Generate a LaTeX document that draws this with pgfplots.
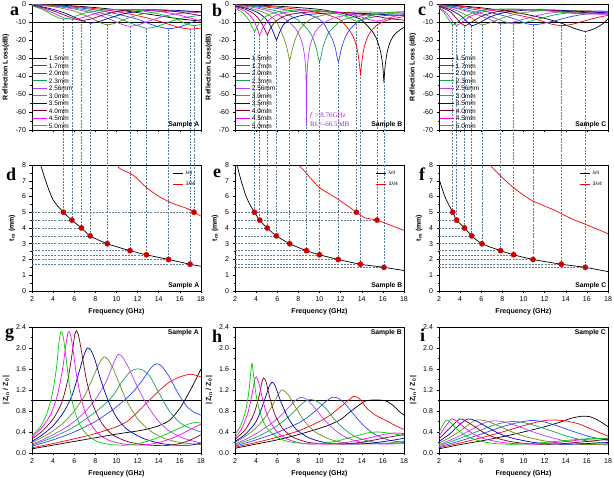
\documentclass[border=0pt]{standalone}
\usepackage{pgfplots}
\pgfplotsset{compat=1.18}
\usepackage{fontspec}
\setmainfont{Liberation Sans}
\newfontfamily\serifltr{Liberation Serif}
\definecolor{cA}{RGB}{0,0,0}
\definecolor{cB}{RGB}{255,0,0}
\definecolor{cC}{RGB}{40,70,255}
\definecolor{cD}{RGB}{20,160,90}
\definecolor{cE}{RGB}{180,60,255}
\definecolor{cF}{RGB}{110,140,30}
\definecolor{cG}{RGB}{0,0,175}
\definecolor{cH}{RGB}{120,0,30}
\definecolor{cI}{RGB}{255,0,255}
\definecolor{cJ}{RGB}{0,205,0}
\definecolor{dashc}{RGB}{95,125,155}
\definecolor{dotred}{RGB}{205,0,0}
\definecolor{annot}{RGB}{150,50,210}
\pgfplotsset{
  base/.style={scale only axis, width=169pt, height=126pt, xmin=2, xmax=18,
    tick pos=left, tick align=outside, major tick length=2.5pt, minor tick length=1.5pt,
    minor x tick num=1, minor y tick num=1,
    /pgf/number format/assume math mode=true,
    tick label style={font=\fontsize{7}{8}\selectfont},
    label style={font=\bfseries\fontsize{7}{8}\selectfont},
    axis line style={line width=0.6pt},
    every tick/.append style={line width=0.5pt, black},
    clip=false, xtick={2,4,...,18}},
  rl/.style={base, ymin=-70, ymax=0, ytick={-70,-60,...,0}, xticklabels={},
    legend style={at={(0.005,0.005)}, anchor=south west, draw=none, fill=none, inner sep=0pt,
      font=\fontsize{6.5}{7}\selectfont, row sep=0.8pt,
      nodes={inner sep=1pt, text height=4.7pt, text depth=0pt}},
    legend cell align=left,
    legend image code/.code={\draw[##1, line width=0.8pt] (0pt,0pt) -- (14pt,0pt);}},
  tm/.style={base, ymin=0, ymax=8, ytick={0,1,...,8}, xlabel={Frequency (GHz)},
    ylabel={t\textsubscript{m} (mm)},
    legend style={at={(0.995,0.985)}, anchor=north east, draw=none, fill=none,
      font=\fontsize{5}{6}\selectfont, row sep=1.5pt},
    legend cell align=left,
    legend image code/.code={\draw[##1, line width=0.7pt] (0pt,0pt) -- (10pt,0pt);}},
  zz/.style={base, ymin=0, ymax=2.4, ytick={0,0.4,0.8,1.2,1.6,2.0,2.4},
    yticklabel style={/pgf/number format/fixed, /pgf/number format/fixed zerofill,
      /pgf/number format/precision=1},
    xlabel={Frequency (GHz)}, ylabel={|\,Z\textsubscript{in} / Z\textsubscript{0}\,|}},
  crv/.style={line width=0.7pt, smooth, tension=0.45, mark=none},
  dsh/.style={dashc, dash pattern=on 2pt off 1.2pt, line width=0.5pt, forget plot, mark=none},
  dots/.style={only marks, mark=*, mark size=2.6pt, dotred, mark options={draw=dotred, fill=dotred}, forget plot},
}
\newcommand{\vdRL}[2]{\addplot[dsh] coordinates {(#1,#2) (#1,-89.44)};}
\newcommand{\dtm}[2]{\addplot[dsh] coordinates {(2,#2) (#1,#2) (#1,8)};}
\newcommand{\samp}[1]{\node[anchor=south east, font=\bfseries\fontsize{6.8}{7}\selectfont, inner sep=1.5pt] at (rel axis cs:1,0) {#1};}
\begin{document}
\begin{tikzpicture}
\useasboundingbox (0pt,0pt) rectangle (614pt,478pt);
% ---------------- a ----------------
\begin{axis}[rl, at={(32pt,348pt)}, anchor=south west, ylabel={Reflection Loss(dB)}]
\vdRL{4.97}{-8.4}\vdRL{5.78}{-8.5}\vdRL{6.68}{-9.1}\vdRL{7.51}{-10.6}\vdRL{9.13}{-11.5}
\vdRL{11.28}{-12.4}\vdRL{12.83}{-13.4}\vdRL{14.93}{-13.7}\vdRL{16.96}{-13.9}\vdRL{17.33}{-12}
\addplot[black, line width=0.6pt, forget plot] coordinates {(2,-10) (18,-10)};
\addplot[crv, cA] coordinates {(2,-0.2)(4,-0.5)(6,-1.1)(8,-2)(10,-3.2)(12,-4.8)(14,-6.5)(16,-8.3)(18,-9.5)};
\addlegendentry{1.5mm}
\addplot[crv, cB] coordinates {(2,-0.2)(4,-0.6)(6,-1.4)(8,-2.6)(10,-4.2)(12,-6.5)(14,-9.5)(15.8,-12.8)(16.96,-13.9)(18,-13.3)};
\addlegendentry{1.7mm}
\addplot[crv, cC] coordinates {(2,-0.3)(4,-0.8)(6,-1.8)(8,-3.3)(10,-5.5)(12,-8.5)(13.6,-12)(14.93,-13.7)(16,-12.7)(17,-10.5)(18,-8.5)};
\addlegendentry{2.0mm}
\addplot[crv, cD] coordinates {(2,-0.4)(4,-1)(6,-2.3)(8,-4.3)(10,-7.5)(11.5,-11)(12.83,-13.4)(13.8,-12.5)(15,-10)(16.5,-7.5)(18,-6.3)};
\addlegendentry{2.3mm}
\addplot[crv, cE] coordinates {(2,-0.4)(4,-1.2)(6,-2.8)(8,-5.5)(9.5,-8.8)(10.5,-11.3)(11.28,-12.4)(12.1,-11.5)(13.3,-9)(14.5,-6.8)(16,-5.2)(18,-4.6)};
\addlegendentry{2.56mm}
\addplot[crv, cF] coordinates {(2,-0.5)(4,-1.5)(6,-4)(7.5,-7.5)(8.5,-10.5)(9.13,-11.5)(9.8,-10.8)(11,-8)(12.5,-5.5)(14,-4.3)(16,-4)(18,-4.5)};
\addlegendentry{3.0mm}
\addplot[crv, cG] coordinates {(2,-0.6)(3,-1.6)(4,-3)(5,-4.8)(6,-7.3)(6.9,-9.6)(7.51,-10.6)(8.3,-9.8)(9.5,-7.5)(11,-5)(13,-3.6)(15,-3.4)(18,-4.3)};
\addlegendentry{3.5mm}
\addplot[crv, cH] coordinates {(2,-0.8)(3,-2)(4,-3.8)(5,-6)(6,-8.2)(6.68,-9.1)(7.6,-8.3)(8.8,-6)(10,-4.3)(12,-3.2)(14,-3.3)(16,-4.5)(18,-6.5)};
\addlegendentry{4.0mm}
\addplot[crv, cI] coordinates {(2,-0.9)(3,-2.6)(4,-5)(5,-7.6)(5.78,-8.5)(6.8,-7.5)(8,-5.3)(9.5,-3.5)(11,-3)(13,-3.4)(15,-5)(16.5,-7)(18,-9.5)};
\addlegendentry{4.5mm}
\addplot[crv, cJ] coordinates {(2,-1)(3,-3)(4,-6.3)(4.97,-8.4)(6,-7)(7,-5)(8.5,-3.5)(10,-3)(12,-3.5)(14,-5.5)(15.5,-8)(16.5,-10.8)(17.33,-12)(18,-11.3)};
\addlegendentry{5.0mm}
\samp{Sample A}
\end{axis}
% ---------------- b ----------------
\begin{axis}[rl, at={(235pt,348pt)}, anchor=south west, ylabel={Reflection Loss(dB)}]
\vdRL{3.84}{-15}\vdRL{4.34}{-17}\vdRL{5.05}{-17}\vdRL{5.92}{-20}\vdRL{7.18}{-31}\vdRL{8.77}{-66.59}
\vdRL{10.0}{-32}\vdRL{11.78}{-32}\vdRL{13.88}{-39}\vdRL{16.1}{-43}\vdRL{13.5}{-9.5}\vdRL{15.45}{-9.5}
\addplot[black, line width=0.6pt, forget plot] coordinates {(2,-10) (18,-10)};
\addplot[crv, cA] coordinates {(2,-0.3)(4,-0.6)(6,-1.2)(8,-2)(10,-3)(12,-5)(13,-6.5)(14,-9)(15.1,-16)(15.5,-21)(15.8,-27)(16.0,-35)(16.1,-43)(16.2,-35)(16.4,-27)(16.7,-21)(17.1,-17)(17.6,-14.5)(18,-13)};
\addlegendentry{1.5mm}
\addplot[crv, cB] coordinates {(2,-0.4)(4,-0.9)(6,-1.8)(8,-3)(10,-5)(11,-6.5)(12,-9)(12.88,-15)(13.28,-19.4)(13.58,-25.3)(13.78,-33.5)(13.88,-39)(13.98,-33.5)(14.18,-25.3)(14.48,-19.4)(14.88,-15)(15.5,-11.5)(16.5,-8.8)(18,-7)};
\addlegendentry{1.7mm}
\addplot[crv, cC] coordinates {(2,-0.5)(4,-1.2)(6,-2.5)(8,-4.5)(9.5,-7)(10.3,-10)(10.8,-15)(11.2,-19.3)(11.5,-24.7)(11.68,-30)(11.78,-32)(11.88,-30)(12.08,-24.7)(12.38,-19.3)(12.78,-15)(13.5,-10.5)(14.5,-8)(16,-6.5)(18,-6)};
\addlegendentry{2.0mm}
\addplot[crv, cD] coordinates {(2,-0.6)(4,-1.6)(6,-4)(7,-6)(8,-9)(9,-15)(9.4,-19.3)(9.7,-24.7)(9.9,-30.3)(10,-32)(10.1,-30.3)(10.3,-24.7)(10.6,-19.3)(11,-15)(12,-9.5)(13,-7.5)(14.5,-6)(16,-5.5)(18,-5.5)};
\addlegendentry{2.3mm}
\addplot[crv, cE] coordinates {(2,-0.7)(3,-1.3)(4,-2.2)(5,-3.6)(6,-5.7)(7,-9.5)(7.77,-14)(8.17,-18.4)(8.47,-24.4)(8.65,-32.4)(8.73,-41.9)(8.77,-66.59)(8.81,-41.9)(8.89,-32.4)(9.07,-24.4)(9.37,-18.4)(9.77,-14)(10.57,-10)(11.5,-7.5)(13,-6)(15,-5)(18,-5)};
\addlegendentry{2.56mm}
\addplot[crv, cF] coordinates {(2,-0.9)(3,-1.8)(4,-3.2)(5,-5.5)(5.8,-9)(6.2,-13)(6.6,-18.5)(6.9,-24)(7.08,-29)(7.18,-31)(7.28,-29)(7.48,-24)(7.78,-18.5)(8.2,-13.5)(8.8,-10)(9.5,-7.5)(11,-5.5)(13,-4.5)(15,-4.5)(18,-5)};
\addlegendentry{3.0mm}
\addplot[crv, cG] coordinates {(2,-1.1)(3,-2.3)(4,-4.3)(4.8,-7.5)(5.3,-11.5)(5.65,-16)(5.85,-19.2)(5.92,-20)(6.0,-19.2)(6.2,-16)(6.6,-11.5)(7.2,-8.5)(8,-6.8)(9,-5.8)(11,-5)(13,-5)(15,-5.5)(18,-6.5)};
\addlegendentry{3.5mm}
\addplot[crv, cH] coordinates {(2,-1.4)(3,-3)(3.8,-5.5)(4.4,-9.5)(4.8,-14)(5.0,-16.6)(5.05,-17)(5.12,-16.6)(5.35,-13.5)(5.8,-10)(6.5,-7.2)(7.5,-5.5)(9,-4.5)(11,-4.3)(13,-5)(15,-6.5)(16.5,-8)(18,-9)};
\addlegendentry{4.0mm}
\addplot[crv, cI] coordinates {(2,-1.8)(3,-4.2)(3.7,-8.5)(4.1,-13.5)(4.28,-16.6)(4.34,-17)(4.42,-16.5)(4.65,-13)(5.1,-9.5)(5.7,-6.8)(6.5,-5)(8,-3.8)(10,-3.8)(12,-4.8)(13.5,-6.5)(14.6,-8.5)(15.45,-9.5)(16.2,-8.5)(17,-7)(18,-6)};
\addlegendentry{4.5mm}
\addplot[crv, cJ] coordinates {(2,-2.3)(2.7,-4.7)(3.3,-8.8)(3.65,-13)(3.8,-14.8)(3.84,-15)(3.9,-14.8)(4.1,-12.5)(4.5,-9)(5,-6.5)(6,-4.4)(7.5,-3.4)(9,-3.3)(11,-4.5)(12.5,-6.8)(13.5,-9.5)(14.4,-7.5)(15.5,-5.5)(17,-4.5)(18,-4.2)};
\addlegendentry{5.0mm}
\node[anchor=base west, text=annot, font=\serifltr\fontsize{7}{8}\selectfont, inner sep=0pt] at (axis cs:9.1,-63.3) {\textit{f} = 8.76GHz};
\node[anchor=base west, text=annot, font=\serifltr\fontsize{7}{8}\selectfont, inner sep=0pt] at (axis cs:9.1,-68.3) {RL=-66.59dB};
\samp{Sample B}
\end{axis}
% ---------------- c ----------------
\begin{axis}[rl, at={(439pt,348pt)}, anchor=south west, ylabel={Reflection Loss (dB)}]
\vdRL{3.3}{-11.5}\vdRL{3.67}{-11.9}\vdRL{4.42}{-12}\vdRL{5.1}{-12}\vdRL{6.07}{-11.5}
\vdRL{7.83}{-11}\vdRL{9.07}{-11}\vdRL{10.9}{-11.5}\vdRL{13.58}{-12}\vdRL{15.85}{-15.2}
\addplot[black, line width=0.6pt, forget plot] coordinates {(2,-10) (18,-10)};
\addplot[crv, cA] coordinates {(2,-0.3)(4,-1)(6,-2.1)(8,-3.6)(10,-5.5)(12,-8)(13.5,-10.5)(14.8,-13.5)(15.85,-15.2)(16.8,-13.5)(17.5,-11)(18,-8.3)};
\addlegendentry{1.5mm}
\addplot[crv, cB] coordinates {(2,-0.4)(4,-1.3)(6,-2.7)(8,-4.5)(10,-6.8)(11.5,-9)(12.6,-11.1)(13.58,-12)(14.6,-11.3)(16,-9)(17,-7.5)(18,-6.3)};
\addlegendentry{1.7mm}
\addplot[crv, cC] coordinates {(2,-0.6)(4,-1.8)(6,-3.7)(8,-6.3)(9.5,-9)(10.2,-10.8)(10.9,-11.5)(11.7,-11)(13,-9.3)(14.5,-7)(16,-5.5)(18,-4.5)};
\addlegendentry{2.0mm}
\addplot[crv, cD] coordinates {(2,-0.7)(4,-2.5)(6,-5.3)(7.5,-8.3)(8.4,-10.2)(9.07,-11)(10,-10.5)(11.3,-8.5)(13,-6)(15,-4.5)(18,-4)};
\addlegendentry{2.3mm}
\addplot[crv, cE] coordinates {(2,-0.8)(3,-1.7)(4,-3)(5,-4.6)(6,-6.7)(7,-9)(7.83,-11)(8.9,-10.2)(10.3,-8)(12,-5.5)(14,-4.2)(16,-3.8)(18,-4)};
\addlegendentry{2.56mm}
\addplot[crv, cF] coordinates {(2,-1)(3,-2.3)(4,-4.5)(5,-7.5)(5.6,-10)(6.07,-11.5)(6.8,-10.5)(8,-7.8)(9.5,-5.3)(11.5,-3.8)(14,-3.5)(18,-4.3)};
\addlegendentry{3.0mm}
\addplot[crv, cG] coordinates {(2,-1.2)(3,-3)(4,-6.3)(4.6,-9.5)(5.1,-12)(5.8,-10.5)(6.8,-7.3)(8,-5)(10,-3.5)(12.5,-3.3)(15,-4)(18,-5)};
\addlegendentry{3.5mm}
\addplot[crv, cH] coordinates {(2,-1.5)(3,-4)(3.7,-8.3)(4.42,-12)(5.1,-10)(6.1,-6.6)(7.5,-4.3)(9.5,-3.2)(12,-3.3)(14.5,-4.3)(18,-5.5)};
\addlegendentry{4.0mm}
\addplot[crv, cI] coordinates {(2,-1.9)(2.7,-5)(3.2,-9)(3.67,-11.9)(4.2,-10)(5,-6.8)(6,-4.6)(7.5,-3.2)(9.5,-2.9)(12,-3.5)(14,-4.6)(16,-5.5)(18,-5.7)};
\addlegendentry{4.5mm}
\addplot[crv, cJ] coordinates {(2,-2.3)(2.5,-5)(2.9,-8.5)(3.3,-11.5)(3.8,-9.8)(4.5,-6.8)(5.5,-4.4)(7,-3)(9,-2.8)(11,-3.3)(13,-4.3)(15,-5.3)(16.5,-5.5)(18,-5.3)};
\addlegendentry{5.0mm}
\samp{Sample C}
\end{axis}
% ---------------- d ----------------
\begin{axis}[tm, at={(32pt,187pt)}, anchor=south west]
\dtm{4.97}{5.0}\dtm{5.78}{4.5}\dtm{6.68}{4.0}\dtm{7.51}{3.5}\dtm{9.13}{3.0}
\dtm{11.28}{2.56}\dtm{12.83}{2.3}\dtm{14.93}{2.0}\dtm{16.96}{1.7}\dtm{17.33}{5.0}
\addplot[crv, black, smooth] coordinates {(2.82,8)(3.39,6.81)(4.02,5.76)(4.97,5.0)(5.78,4.5)(6.68,4.0)(7.51,3.5)(9.13,3.0)(11.28,2.56)(12.83,2.3)(14.93,2.0)(16.96,1.7)(18,1.57)};
\addlegendentry{λ/4}
\addplot[crv, red] coordinates {(10.08,8)(10.33,7.77)(11.6,7.34)(12.85,6.56)(14.1,5.97)(15.38,5.54)(16.64,5.25)(17.33,5.0)(18,4.75)};
\addlegendentry{3λ/4}
\addplot[dots] coordinates {(4.97,5.0)(5.78,4.5)(6.68,4.0)(7.51,3.5)(9.13,3.0)(11.28,2.56)(12.83,2.3)(14.93,2.0)(16.96,1.7)(17.33,5.0)};
\samp{Sample A}
\end{axis}
% ---------------- e ----------------
\begin{axis}[tm, at={(235pt,187pt)}, anchor=south west]
\dtm{3.84}{5.0}\dtm{4.34}{4.5}\dtm{5.05}{4.0}\dtm{5.92}{3.5}\dtm{7.18}{3.0}
\dtm{8.77}{2.56}\dtm{10.0}{2.3}\dtm{11.78}{2.0}\dtm{13.88}{1.7}\dtm{16.1}{1.5}\dtm{13.5}{5.0}\dtm{15.45}{4.5}
\addplot[crv, black] coordinates {(2.19,8)(2.5,7.2)(3,6.1)(3.4,5.5)(3.84,5.0)(4.34,4.5)(5.05,4.0)(5.92,3.5)(7.18,3.0)(8.77,2.56)(10.0,2.3)(11.78,2.0)(13.88,1.7)(16.1,1.5)(18,1.3)};
\addlegendentry{λ/4}
\addplot[crv, red] coordinates {(7.98,8)(8.52,7.66)(9.94,6.6)(11.68,5.86)(13.5,5.0)(14.3,4.65)(15.45,4.5)(16.75,4.17)(18,3.85)};
\addlegendentry{3λ/4}
\addplot[dots] coordinates {(3.84,5.0)(4.34,4.5)(5.05,4.0)(5.92,3.5)(7.18,3.0)(8.77,2.56)(10.0,2.3)(11.78,2.0)(13.88,1.7)(16.1,1.5)(13.5,5.0)(15.45,4.5)};
\samp{Sample B}
\end{axis}
% ---------------- f ----------------
\begin{axis}[tm, at={(439pt,187pt)}, anchor=south west]
\dtm{3.3}{5.0}\dtm{3.67}{4.5}\dtm{4.42}{4.0}\dtm{5.1}{3.5}\dtm{6.07}{3.0}
\dtm{7.83}{2.56}\dtm{9.07}{2.3}\dtm{10.9}{2.0}\dtm{13.58}{1.7}\dtm{15.85}{1.5}
\addplot[crv, black] coordinates {(2,7.13)(2.57,5.97)(3.3,5.0)(3.67,4.5)(4.42,4.0)(5.1,3.5)(6.07,3.0)(7.83,2.56)(9.07,2.3)(10.9,2.0)(13.58,1.7)(15.85,1.5)(18,1.23)};
\addlegendentry{λ/4}
\addplot[crv, red] coordinates {(6.82,8)(7.92,7.24)(9.18,6.5)(10.76,5.76)(12.96,5.12)(14.54,4.59)(16.1,4.17)(18,3.64)};
\addlegendentry{3λ/4}
\addplot[dots] coordinates {(3.3,5.0)(3.67,4.5)(4.42,4.0)(5.1,3.5)(6.07,3.0)(7.83,2.56)(9.07,2.3)(10.9,2.0)(13.58,1.7)(15.85,1.5)};
\samp{Sample C}
\end{axis}
% ---------------- g ----------------
\begin{axis}[zz, at={(32pt,25pt)}, anchor=south west]
\addplot[black, line width=0.6pt] coordinates {(2,1) (18,1)};
\addplot[crv, cA] coordinates {(2,0.08)(4,0.15)(6,0.22)(8,0.29)(10,0.36)(12,0.42)(13,0.46)(14,0.52)(15,0.62)(16,0.85)(17,1.2)(18,1.6)};
\addplot[crv, cB] coordinates {(2,0.1)(4,0.18)(6,0.27)(8,0.37)(10,0.5)(11,0.6)(12,0.78)(13,0.98)(14,1.18)(15,1.35)(16,1.45)(16.95,1.5)(17.5,1.48)(18,1.45)};
\addplot[crv, cC] coordinates {(2,0.13)(4,0.25)(6,0.4)(8,0.6)(10,0.88)(11.5,1.15)(12.5,1.4)(13.3,1.63)(13.8,1.7)(14.3,1.65)(15,1.45)(15.8,1.15)(16.6,0.9)(17.3,0.78)(18,0.72)};
\addplot[crv, cD] coordinates {(2,0.15)(4,0.3)(6,0.5)(8,0.78)(9.5,1.05)(10.5,1.35)(11.3,1.55)(11.9,1.6)(12.5,1.58)(13.2,1.45)(14,1.15)(15,0.8)(16,0.58)(17,0.47)(18,0.4)};
\addplot[crv, cE] coordinates {(2,0.17)(3,0.25)(4,0.35)(5,0.46)(6,0.6)(7,0.78)(8,1.02)(9,1.35)(9.7,1.7)(10.17,1.88)(10.6,1.82)(11.2,1.6)(12,1.25)(13,0.88)(14,0.6)(15,0.42)(16.5,0.27)(18,0.19)};
\addplot[crv, cF] coordinates {(2,0.2)(3,0.3)(4,0.42)(5,0.58)(6,0.8)(7,1.1)(7.8,1.45)(8.4,1.72)(8.81,1.83)(9.2,1.78)(9.7,1.6)(10.3,1.3)(11,0.98)(12,0.65)(13.2,0.42)(14.5,0.28)(16,0.2)(18,0.16)};
\addplot[crv, cG] coordinates {(2,0.22)(3,0.35)(4,0.52)(5,0.78)(5.8,1.1)(6.4,1.5)(6.9,1.85)(7.24,2.0)(7.6,1.95)(8,1.75)(8.5,1.4)(9.2,1.0)(10,0.68)(11,0.45)(12.5,0.28)(14,0.19)(15.5,0.15)(17,0.15)(18,0.19)};
\addplot[crv, cH] coordinates {(2,0.27)(3,0.42)(4,0.65)(4.8,0.95)(5.4,1.4)(5.8,1.9)(6.05,2.25)(6.23,2.33)(6.45,2.2)(6.8,1.8)(7.2,1.35)(7.8,0.9)(8.6,0.57)(9.6,0.35)(11,0.22)(12.5,0.16)(14.5,0.14)(16,0.18)(17,0.25)(18,0.35)};
\addplot[crv, cI] coordinates {(2,0.3)(3,0.5)(3.8,0.75)(4.4,1.1)(4.9,1.6)(5.2,2.05)(5.44,2.31)(5.65,2.25)(5.9,1.95)(6.2,1.5)(6.7,1.0)(7.3,0.65)(8.2,0.38)(9.3,0.24)(10.7,0.17)(12.5,0.15)(14,0.2)(15.5,0.3)(17,0.45)(18,0.55)};
\addplot[crv, cJ] coordinates {(2,0.33)(2.8,0.5)(3.4,0.75)(3.9,1.1)(4.3,1.6)(4.55,2.1)(4.74,2.31)(4.95,2.22)(5.2,1.85)(5.5,1.35)(5.9,0.9)(6.5,0.55)(7.3,0.33)(8.3,0.21)(9.5,0.16)(11,0.15)(12.5,0.2)(14,0.3)(15.5,0.43)(16.8,0.55)(17.5,0.58)(18,0.57)};
\node[anchor=north east, font=\bfseries\fontsize{6.8}{7}\selectfont, inner sep=2pt] at (rel axis cs:1,1) {Sample A};
\end{axis}
% ---------------- h ----------------
\begin{axis}[zz, at={(235pt,25pt)}, anchor=south west]
\addplot[black, line width=0.6pt] coordinates {(2,1) (18,1)};
\addplot[crv, cA] coordinates {(2,0.09)(4,0.17)(6,0.25)(8,0.35)(10,0.47)(11,0.54)(12,0.64)(13,0.8)(14,0.95)(14.5,1.0)(15.5,1.01)(16.3,0.99)(17,0.9)(17.5,0.8)(18,0.72)};
\addplot[crv, cB] coordinates {(2,0.11)(4,0.2)(6,0.3)(8,0.42)(10,0.6)(11,0.72)(12,0.88)(12.7,1.0)(13.27,1.08)(13.8,1.03)(14.5,0.85)(15.3,0.72)(16.3,0.62)(17.2,0.52)(18,0.45)};
\addplot[crv, cC] coordinates {(2,0.13)(4,0.25)(6,0.39)(8,0.57)(9,0.7)(10,0.87)(10.6,0.98)(11.2,1.06)(11.8,1.04)(12.5,0.92)(13.3,0.72)(14.2,0.52)(15.2,0.36)(16.5,0.25)(18,0.2)};
\addplot[crv, cD] coordinates {(2,0.15)(4,0.3)(5,0.4)(6,0.52)(7,0.68)(8,0.87)(8.6,0.98)(9.15,1.02)(9.8,0.98)(10.6,0.85)(11.5,0.62)(12.5,0.43)(13.5,0.3)(15,0.21)(16.5,0.18)(18,0.2)};
\addplot[crv, cE] coordinates {(2,0.17)(3,0.26)(4,0.37)(5,0.5)(6,0.65)(7,0.85)(7.7,1.0)(8.2,1.06)(8.8,1.02)(9.6,0.85)(10.5,0.62)(11.5,0.43)(12.5,0.3)(14,0.2)(16,0.17)(18,0.18)};
\addplot[crv, cF] coordinates {(2,0.2)(3,0.32)(4,0.48)(5,0.72)(5.8,1.0)(6.4,1.2)(7,1.12)(7.7,0.88)(8.6,0.6)(9.6,0.4)(11,0.26)(12.5,0.19)(14.5,0.17)(16.5,0.19)(18,0.22)};
\addplot[crv, cG] coordinates {(2,0.22)(3,0.36)(4,0.6)(4.7,0.95)(5.2,1.25)(5.51,1.35)(5.8,1.28)(6.3,1.0)(7,0.68)(7.8,0.45)(9,0.29)(10.5,0.2)(12.5,0.17)(14.5,0.18)(16.5,0.23)(18,0.28)};
\addplot[crv, cH] coordinates {(2,0.26)(3,0.45)(3.8,0.75)(4.3,1.1)(4.55,1.35)(4.72,1.43)(4.95,1.35)(5.3,1.05)(5.8,0.72)(6.5,0.47)(7.5,0.3)(9,0.2)(11,0.17)(13,0.18)(15,0.24)(16.5,0.3)(18,0.35)};
\addplot[crv, cI] coordinates {(2,0.3)(2.6,0.45)(3.2,0.75)(3.6,1.1)(3.85,1.38)(4.03,1.45)(4.3,1.3)(4.7,0.95)(5.2,0.65)(6,0.4)(7,0.26)(8.5,0.18)(10.5,0.17)(12.5,0.2)(14.5,0.28)(16,0.35)(17,0.38)(18,0.37)};
\addplot[crv, cJ] coordinates {(2,0.36)(2.5,0.5)(3,0.8)(3.3,1.15)(3.5,1.55)(3.61,1.71)(3.75,1.5)(4,1.1)(4.4,0.75)(5,0.48)(6,0.3)(7,0.22)(8.5,0.18)(10,0.18)(11.5,0.22)(13,0.3)(14.5,0.38)(15.5,0.4)(16.5,0.38)(18,0.33)};
\node[anchor=north east, font=\bfseries\fontsize{6.8}{7}\selectfont, inner sep=2pt] at (rel axis cs:1,1) {Sample B};
\end{axis}
% ---------------- i ----------------
\begin{axis}[zz, at={(439pt,25pt)}, anchor=south west]
\addplot[black, line width=0.6pt] coordinates {(2,1) (18,1)};
\addplot[crv, cA] coordinates {(2,0.08)(4,0.16)(6,0.23)(8,0.31)(10,0.4)(12,0.5)(13.5,0.59)(14.5,0.66)(15.5,0.7)(16.3,0.69)(17,0.63)(17.5,0.57)(18,0.5)};
\addplot[crv, cB] coordinates {(2,0.1)(4,0.19)(6,0.29)(8,0.4)(10,0.52)(11.5,0.6)(12.65,0.63)(14,0.61)(15.3,0.55)(16.7,0.43)(18,0.32)};
\addplot[crv, cC] coordinates {(2,0.12)(4,0.23)(6,0.36)(8,0.5)(9.5,0.58)(10.76,0.62)(12,0.59)(13.3,0.51)(14.7,0.41)(16.3,0.31)(18,0.24)};
\addplot[crv, cD] coordinates {(2,0.14)(4,0.28)(6,0.44)(7.5,0.55)(8.87,0.6)(10,0.58)(11.3,0.51)(12.8,0.41)(14.3,0.31)(16,0.23)(18,0.18)};
\addplot[crv, cE] coordinates {(2,0.16)(3,0.24)(4,0.33)(5,0.44)(6,0.55)(6.98,0.61)(8,0.6)(9.2,0.53)(10.5,0.43)(12,0.33)(13.5,0.25)(15.5,0.18)(18,0.15)};
\addplot[crv, cF] coordinates {(2,0.19)(3,0.29)(4,0.42)(5,0.57)(5.56,0.63)(6.5,0.61)(7.5,0.53)(8.8,0.41)(10.2,0.31)(12,0.23)(14,0.18)(16,0.16)(18,0.17)};
\addplot[crv, cG] coordinates {(2,0.22)(3,0.36)(4,0.55)(4.77,0.65)(5.5,0.61)(6.5,0.5)(7.7,0.37)(9,0.28)(11,0.2)(13,0.17)(15,0.17)(18,0.2)};
\addplot[crv, cH] coordinates {(2,0.27)(3,0.47)(3.98,0.65)(4.6,0.6)(5.4,0.5)(6.3,0.38)(7.5,0.28)(9,0.21)(11,0.17)(13,0.17)(15,0.2)(18,0.26)};
\addplot[crv, cI] coordinates {(2,0.32)(2.6,0.5)(3.2,0.65)(3.7,0.6)(4.3,0.5)(5.2,0.37)(6.3,0.27)(8,0.2)(10,0.17)(12,0.18)(14,0.22)(16,0.26)(18,0.28)};
\addplot[crv, cJ] coordinates {(2,0.38)(2.4,0.55)(2.72,0.63)(3.1,0.58)(3.6,0.47)(4.3,0.36)(5.2,0.27)(6.5,0.2)(8,0.17)(10,0.17)(12,0.2)(14,0.24)(16,0.27)(18,0.28)};
\node[anchor=north east, font=\bfseries\fontsize{6.8}{7}\selectfont, inner sep=2pt] at (rel axis cs:1,1) {Sample C};
\end{axis}
% ---------------- panel letters ----------------
\begin{scope}[every node/.style={font=\serifltr\bfseries\fontsize{18}{18}\selectfont, anchor=base west, inner sep=0pt}]
\node at (10pt,462pt) {a};
\node at (212pt,461pt) {b};
\node at (418pt,462pt) {c};
\node at (6pt,297pt) {d};
\node at (213pt,300pt) {e};
\node at (419pt,297pt) {f};
\node at (5pt,140pt) {g};
\node at (212pt,135pt) {h};
\node at (420pt,136pt) {i};
\end{scope}
\end{tikzpicture}
\end{document}
